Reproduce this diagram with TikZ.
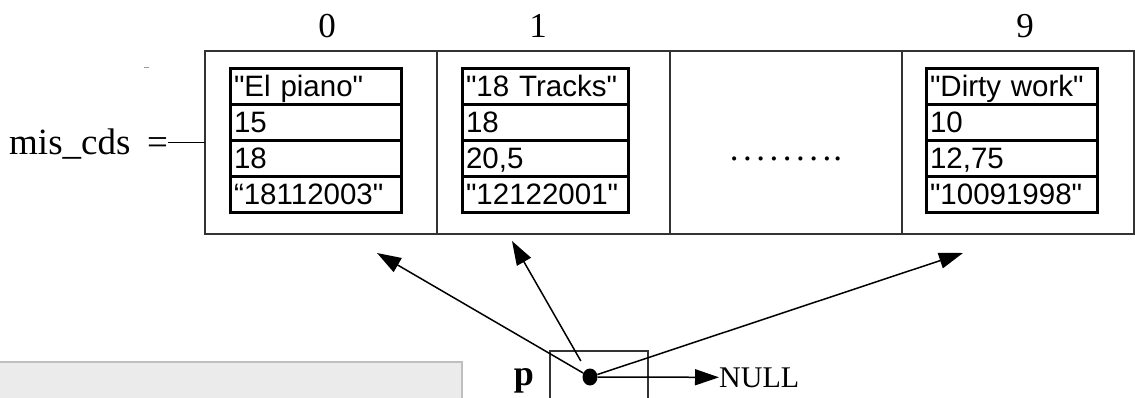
\documentclass[tikz,border=0pt]{standalone}
\usepackage{fontspec}
\setmainfont{Liberation Serif}
\newfontfamily\recfont{Liberation Sans}
\usetikzlibrary{arrows.meta,shapes.geometric}

\tikzset{
  cellbox/.style={draw=black!80, line width=1.6pt, minimum width=232pt,
    minimum height=183pt, inner sep=0pt, outer sep=0pt},
  fld/.style={draw=black, line width=3pt, inner xsep=4pt, inner ysep=4pt,
    outer sep=0pt, text height=24pt, text depth=4pt, align=left,
    font=\recfont\fontsize{29.5}{32}\selectfont},
  lbl/.style={inner sep=0pt, font=\fontsize{35}{40}\selectfont},
  conn/.style={line width=1.6pt},
  ptr/.style={line width=1.5pt, -{Triangle[length=24pt,width=16pt]}},
}

\begin{document}
\begin{tikzpicture}[x=1pt,y=-1pt]
\useasboundingbox (0,0) rectangle (1135,398);
\clip (0,0) rectangle (1135,398);

% grey panel in the lower left corner
\filldraw[fill=black!8, draw=black!25, line width=1.5pt]
  (-5,362) rectangle (462,410);
\draw[black!40, line width=1pt] (144,68) -- (149,68);

% index labels
\node[lbl, anchor=base] (i0) at (327,38) {0};
\node[lbl, anchor=base] (i1) at (538,38) {1};
\node[lbl, anchor=base] (i9) at (1025,38) {9};

% array cells
\node[cellbox] (c0) at (321,142.5) {};
\node[cellbox] (c1) at (553.5,142.5) {};
\node[cellbox] (c2) at (786,142.5) {};
\node[cellbox] (c9) at (1018,142.5) {};

% array name
\node[lbl, anchor=base west, font=\fontsize{37}{42}\selectfont] (name) at (9,155) {mis\_cds};
\node[lbl, anchor=base west, font=\fontsize{37}{42}\selectfont] (eq) at (147,155) {=};
\draw[conn] (eq.east |- c0.west) -- (c0.west);

% record in cell 0
\node[fld, text width=163pt, anchor=north west] (r0a) at (230,69) {"El piano"};
\node[fld, text width=163pt, anchor=north west] (r0b) at (230,105) {15};
\node[fld, text width=163pt, anchor=north west] (r0c) at (230,141) {18};
\node[fld, text width=163pt, anchor=north west] (r0d) at (230,177) {“18112003"};

% record in cell 1
\node[fld, text width=158pt, anchor=north west] (r1a) at (462,69) {"18 Tracks"};
\node[fld, text width=158pt, anchor=north west] (r1b) at (462,105) {18};
\node[fld, text width=158pt, anchor=north west] (r1c) at (462,141) {20,5};
\node[fld, text width=158pt, anchor=north west] (r1d) at (462,177) {"12122001"};

% record in cell 9
\node[fld, text width=163pt, anchor=north west] (r9a) at (926,69) {"Dirty work"};
\node[fld, text width=163pt, anchor=north west] (r9b) at (926,105) {10};
\node[fld, text width=163pt, anchor=north west] (r9c) at (926,141) {12,75};
\node[fld, text width=163pt, anchor=north west] (r9d) at (926,177) {"10091998"};

% elided cells
\node[lbl, anchor=base] (gap) at (786,161)
  {.\hspace{4.5pt}.\hspace{4.5pt}.\hspace{4.5pt}.\hspace{4.5pt}.\hspace{4.5pt}.\hspace{4.5pt}.\hspace{4.5pt}.\hspace{2pt}.};

% pointer variable
\node[draw=black!80, line width=1.5pt, minimum width=98pt, minimum height=70pt,
      anchor=north west, inner sep=0pt] (pbox) at (549,350) {};
\node[lbl, anchor=base, font=\bfseries\fontsize{36}{40}\selectfont] (p) at (524,385) {p};
\node[ellipse, fill=black, minimum width=15pt, minimum height=17pt, inner sep=0pt]
  (dot) at (590,377) {};
\node[inner sep=0pt, anchor=base west, font=\fontsize{30}{34}\selectfont]
  (null) at (719,387) {NULL};

\coordinate (t0) at (377,253);
\coordinate (t1) at (512,241);
\coordinate (t9) at (963,253);

\draw[ptr] (dot) -- (t0);
\draw[ptr, shorten <=10pt] (dot) -- (t1);
\draw[ptr] (dot) -- (t9);
\draw[ptr] (dot) -- (null.west);
\end{tikzpicture}
\end{document}
